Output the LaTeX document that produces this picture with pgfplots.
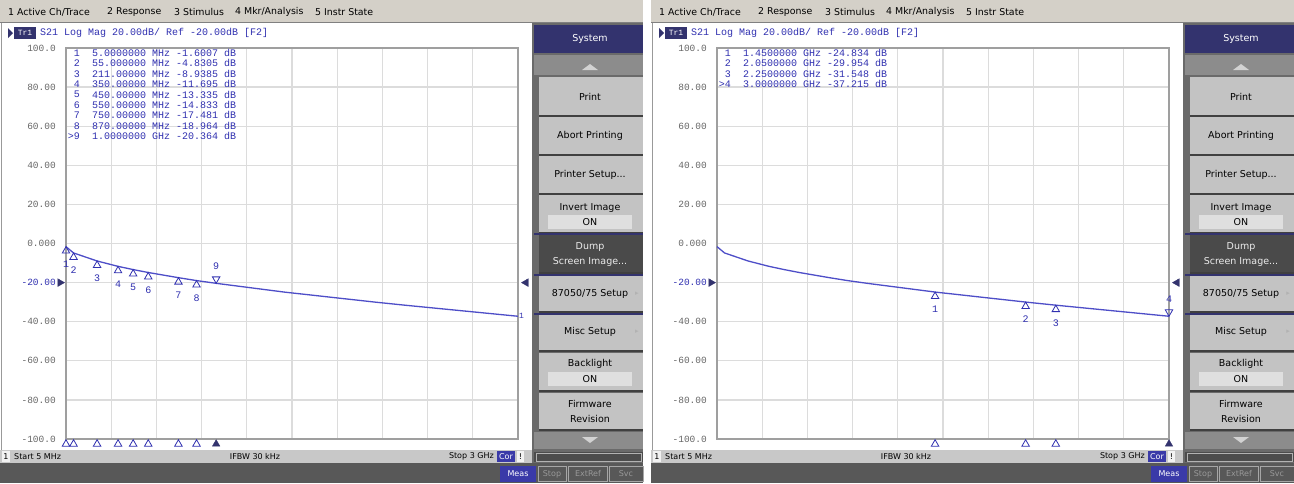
\documentclass[border=0pt]{standalone}
\usepackage{fontspec}
\setmainfont{DejaVu Sans}
\newfontfamily\monof{Liberation Mono}
\usepackage{pgfplots}
\pgfplotsset{compat=1.18}
\usepackage{pgfplotstable}

\definecolor{menubg}{HTML}{D4D0C8}
\definecolor{btnc}{HTML}{C3C3C3}
\definecolor{navy}{HTML}{33336E}
\definecolor{tracec}{HTML}{4E4EC8}
\definecolor{txtb}{HTML}{3030B0}
\definecolor{gridc}{HTML}{DCDCDC}
\definecolor{darkbar}{HTML}{585858}
\definecolor{colbg}{HTML}{6A6A6A}
\definecolor{arrowbg}{HTML}{8C8C8C}
\definecolor{dumpc}{HTML}{4A4A4A}
\definecolor{statc}{HTML}{C8C8C8}
\definecolor{meas}{HTML}{3A3AA8}

\newcommand\uif{\fontsize{9.4}{11}\selectfont}
\newcommand\skf{\fontsize{9.5}{11}\selectfont}
\newcommand\stf{\fontsize{8}{9}\selectfont}
\newcommand\mf{\monof\fontsize{10}{10}\selectfont}

\pgfplotstableread{
f db
5 -1.6007
55 -4.8305
211 -8.9385
350 -11.695
450 -13.335
550 -14.833
750 -17.481
870 -18.964
1000 -20.364
1450 -24.834
2050 -29.954
2250 -31.548
3000 -37.215
}\trace

\pgfplotstableread{
f db lab
5 -1.6007 1
55 -4.8305 2
211 -8.9385 3
350 -11.695 4
450 -13.335 5
550 -14.833 6
750 -17.481 7
870 -18.964 8
}\mkA

\pgfplotstableread{
f db lab
1000 -20.364 9
}\mkAact

\pgfplotstableread{
f db lab
1450 -24.834 1
2050 -29.954 2
2250 -31.548 3
}\mkB

\pgfplotstableread{
f db lab
3000 -37.215 4
}\mkBact

\newcommand\btn[3]{\fill[#3] (539,#1) rectangle (643,#2); \draw[black!75,line width=1.2pt] (539,#2) -- (643,#2);}

\newcommand\chrome[1]{%
\begin{scope}[xshift=#1pt,x=1pt,y=-1pt]
\fill[menubg] (0,0) rectangle (643,23);
\draw[gray] (0,22.5) -- (643,22.5);
\node[anchor=west,inner sep=0,font=\uif] at (8,12) {1 Active Ch/Trace};
\node[anchor=west,inner sep=0,font=\uif] at (107,12) {2 Response};
\node[anchor=west,inner sep=0,font=\uif] at (174,12) {3 Stimulus};
\node[anchor=west,inner sep=0,font=\uif] at (235,12) {4 Mkr/Analysis};
\node[anchor=west,inner sep=0,font=\uif] at (315,12) {5 Instr State};
\fill[white] (0,23) rectangle (532,450);
\draw[gray!80,line width=1pt] (1,23) -- (1,450);
\fill[colbg] (532,23) rectangle (643,463);
\fill[navy] (534,25) rectangle (643,53);
\node[white,font=\skf] at (590,39) {System};
\fill[arrowbg] (534,55) rectangle (643,75);
\fill[gray!35] (582,70) -- (598,70) -- (590,64) -- cycle;
\btn{77}{116}{btnc}
\btn{117}{155}{btnc}
\btn{156}{194}{btnc}
\btn{195}{233}{btnc}
\btn{235}{273}{dumpc}
\btn{276}{312}{btnc}
\btn{315}{351}{btnc}
\btn{353}{391}{btnc}
\btn{393}{430}{btnc}
\fill[arrowbg] (534,432) rectangle (643,449);
\fill[gray!35] (582,437) -- (598,437) -- (590,443) -- cycle;
\fill[black!70] (534,452) rectangle (643,462);
\draw[gray!60] (536,453.5) rectangle (641,461);
\draw[navy,line width=2pt] (534,234) -- (643,234) (534,274.5) -- (643,274.5) (534,313.5) -- (643,313.5);
\node[font=\skf] at (590,97) {Print};
\node[font=\skf] at (590,136) {Abort Printing};
\node[font=\skf] at (590,175) {Printer Setup...};
\node[font=\skf] at (590,208) {Invert Image};
\fill[gray!25] (548,215) rectangle (632,229);
\node[font=\skf] at (590,222) {ON};
\node[font=\skf,text=gray!15] at (590,247) {Dump};
\node[font=\skf,text=gray!15] at (590,262) {Screen Image...};
\node[font=\skf] at (590,294) {87050/75 Setup};
\node[font=\fontsize{7}{7}\selectfont,text=gray!60] at (637,294) {▸};
\node[font=\skf] at (590,332) {Misc Setup};
\node[font=\fontsize{7}{7}\selectfont,text=gray!60] at (637,332) {▸};
\node[font=\skf] at (590,364) {Backlight};
\fill[gray!25] (548,372) rectangle (632,386);
\node[font=\skf] at (590,379) {ON};
\node[font=\skf] at (590,404) {Firmware};
\node[font=\skf] at (590,419) {Revision};
% status bar
\fill[statc] (0,450) rectangle (532,463);
\fill[gray!10] (2,451) rectangle (10,462);
\node[font=\stf,inner sep=0] at (6,456.5) {1};
\node[font=\stf,anchor=west,inner sep=0] at (14,456.5) {Start 5 MHz};
\node[font=\stf,inner sep=0] at (255,456.5) {IFBW 30 kHz};
\node[font=\stf,anchor=east,inner sep=0] at (494,456.5) {Stop 3 GHz};
\fill[meas] (497,451) rectangle (515,462);
\node[font=\stf,inner sep=0,white] at (506,456.5) {Cor};
\fill[gray!10] (517,451) rectangle (524,462);
\node[font=\stf,inner sep=0] at (520.5,456.5) {!};
% bottom bar
\fill[darkbar] (0,463) rectangle (643,483);
\fill[meas] (500,466) rectangle (536,482);
\node[font=\stf,white] at (518,474) {Meas};
\draw[gray!70] (538.5,466.5) rectangle (566,481.5) (568.5,466.5) rectangle (607,481.5) (609.5,466.5) rectangle (643,481.5);
\node[font=\stf,text=gray!80] at (552,474) {Stop};
\node[font=\stf,text=gray!80] at (588,474) {ExtRef};
\node[font=\stf,text=gray!80] at (626,474) {Svc};
% title line
\fill[navy] (8,28) -- (13,33) -- (8,38) -- cycle;
\fill[navy] (14,27) rectangle (36,39);
\node[white,font=\monof\fontsize{8}{8}\selectfont,inner sep=0] at (25,33) {Tr1};
\node[anchor=west,inner sep=0,text=txtb,font=\mf] at (40,33) {S21 Log Mag 20.00dB/ Ref -20.00dB [F2]};
\end{scope}}

\newcommand\mline[3]{%
\node[anchor=east,inner sep=0,text=txtb,font=\mf] at (80,#1) {#2};
\node[anchor=west,inner sep=0,text=txtb,font=\mf] at (92,#1) {#3};}

\pgfplotsset{vna/.style={
 anchor=south west, scale only axis, width=452pt, height=391pt,
 xmin=5, xmax=3000, ymin=-100, ymax=100,
 xtick={5,304.5,604,903.5,1203,1502.5,1802,2101.5,2401,2700.5,3000},
 xticklabels={},
 ytick={-100,-80,...,100},
 yticklabels={-100.0,-80.00,-60.00,-40.00,{\color{txtb}-20.00},0.000,20.00,40.00,60.00,80.00,100.0},
 grid=major, major grid style={gridc,line width=1.3pt},
 major tick length=0pt,
 axis line style={gray!75,line width=1.2pt},
 yticklabel style={font=\monof\fontsize{9.5}{10}\selectfont, text=gray!80!black, inner sep=0pt, xshift=-10pt},
 clip=false,
},
mkinact/.style={only marks, mark=triangle, mark size=4.3pt,
 mark options={draw=txtb, fill=white, line width=0.8pt, yshift=-4.3pt},
 point meta=explicit symbolic, nodes near coords,
 nodes near coords style={anchor=north, yshift=-9.5pt, font=\mf, text=txtb, inner sep=0pt}},
mkact/.style={only marks, mark=triangle, mark size=4.3pt,
 mark options={draw=txtb, fill=white, line width=0.8pt, yshift=4.3pt, rotate=180},
 point meta=explicit symbolic, nodes near coords,
 nodes near coords style={anchor=south, yshift=9.5pt, font=\mf, text=txtb, inner sep=0pt}},
bot/.style={only marks, mark=triangle, mark size=4.3pt,
 mark options={draw=txtb, fill=white, line width=0.8pt, yshift=-5pt}},
botact/.style={only marks, mark=triangle*, mark size=4.3pt,
 mark options={draw=navy, fill=navy, yshift=-5pt}},
refl/.style={only marks, mark=triangle*, mark size=4.5pt,
 mark options={draw=navy, fill=navy, xshift=-6pt, rotate=-90}},
refr/.style={only marks, mark=triangle*, mark size=4.5pt,
 mark options={draw=navy, fill=navy, xshift=8pt, rotate=90}},
}

\begin{document}
\begin{tikzpicture}
\fill[white] (0,0) rectangle (1294pt,-483pt);
\chrome{0}
\chrome{651}

\begin{axis}[vna, at={(66pt,-439pt)}]
\addplot[tracec, line width=1.3pt] table[x=f,y=db] {\trace};
\addplot[mkinact] table[x=f,y=db,meta=lab] {\mkA};
\addplot[mkact] table[x=f,y=db,meta=lab] {\mkAact};
\addplot[bot] coordinates {(5,-100) (55,-100) (211,-100) (350,-100) (450,-100) (550,-100) (750,-100) (870,-100)};
\addplot[botact] coordinates {(1000,-100)};
\addplot[refl] coordinates {(5,-20)};
\addplot[refr] coordinates {(3000,-20)};
\node[anchor=west,inner sep=1pt,text=txtb,font=\monof\fontsize{8}{8}\selectfont] at (axis cs:3000,-37.215) {1};
\end{axis}

\begin{axis}[vna, at={(717pt,-439pt)}]
\addplot[tracec, line width=1.3pt] table[x=f,y=db] {\trace};
\addplot[mkinact] table[x=f,y=db,meta=lab] {\mkB};
\addplot[mkact] table[x=f,y=db,meta=lab] {\mkBact};
\addplot[bot] coordinates {(1450,-100) (2050,-100) (2250,-100)};
\addplot[botact] coordinates {(3000,-100)};
\addplot[refl] coordinates {(5,-20)};
\addplot[refr] coordinates {(3000,-20)};
\end{axis}

\begin{scope}[x=1pt,y=-1pt]
\mline{53}{1}{5.0000000 MHz -1.6007 dB}
\mline{63.4}{2}{55.000000 MHz -4.8305 dB}
\mline{73.8}{3}{211.00000 MHz -8.9385 dB}
\mline{84.2}{4}{350.00000 MHz -11.695 dB}
\mline{94.6}{5}{450.00000 MHz -13.335 dB}
\mline{105}{6}{550.00000 MHz -14.833 dB}
\mline{115.4}{7}{750.00000 MHz -17.481 dB}
\mline{125.8}{8}{870.00000 MHz -18.964 dB}
\mline{136.2}{>9}{1.0000000 GHz -20.364 dB}
\end{scope}
\begin{scope}[xshift=651pt,x=1pt,y=-1pt]
\mline{53}{1}{1.4500000 GHz -24.834 dB}
\mline{63.4}{2}{2.0500000 GHz -29.954 dB}
\mline{73.8}{3}{2.2500000 GHz -31.548 dB}
\mline{84.2}{>4}{3.0000000 GHz -37.215 dB}
\end{scope}

\pgfresetboundingbox
\path[use as bounding box] (0,0) rectangle (1294pt,-483pt);
\end{tikzpicture}
\end{document}
